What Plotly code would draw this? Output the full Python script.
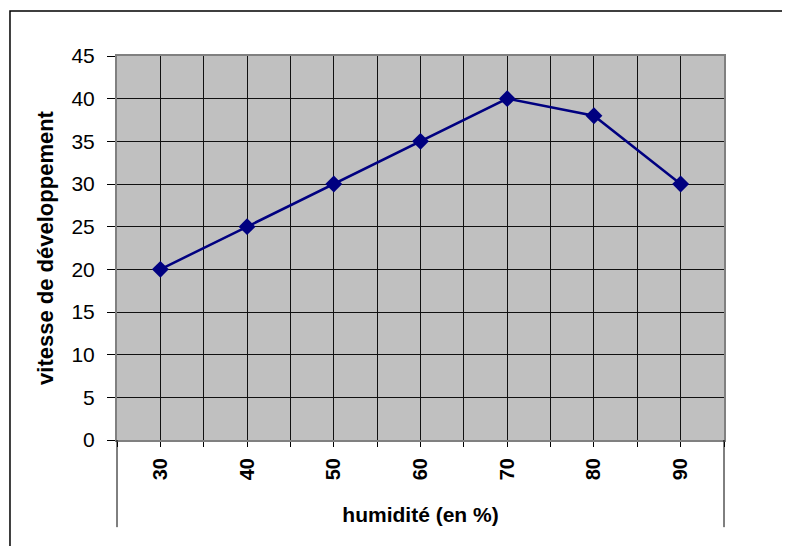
import plotly.graph_objects as go

# Données
humidite = [30, 40, 50, 60, 70, 80, 90]
vitesse = [20, 25, 30, 35, 40, 38, 30]

# Graduations de l'axe x (limites et centres des catégories)
graduations_x = [25, 30, 35, 40, 45, 50, 55, 60, 65, 70, 75, 80, 85, 90, 95]
etiquettes_x = [str(v) if v in humidite else "" for v in graduations_x]

fig = go.Figure()
fig.add_trace(go.Scatter(
    x=humidite, y=vitesse, mode="lines+markers",
    line=dict(color="#000080", width=2.5),
    marker=dict(symbol="diamond", size=13, color="#000080"),
    showlegend=False,
))

# La page ajoute une marge de 8 px autour de la figure
fig.update_layout(
    width=782, height=538,
    margin=dict(l=109, r=66, t=48, b=106),
    paper_bgcolor="white",
    plot_bgcolor="#C0C0C0",
    font=dict(family="Liberation Sans, Arial, sans-serif", color="black"),
)

fig.update_xaxes(
    range=[25, 95], tickmode="array", tickvals=graduations_x, ticktext=etiquettes_x,
    tickangle=-90, tickfont=dict(size=20, family="Liberation Sans, Arial", weight="bold"),
    ticks="outside", ticklen=5, tickcolor="black", ticklabelstandoff=3,
    showgrid=True, gridcolor="#111111", gridwidth=1,
    showline=True, linecolor="#808080", linewidth=2, mirror=True,
    zeroline=False,
    title=dict(text="<b>humidité (en %)</b>", font=dict(size=21), standoff=28),
)
fig.update_yaxes(
    range=[0, 45], dtick=5, tickfont=dict(size=21),
    ticks="outside", ticklen=8, tickcolor="black", ticklabelstandoff=8,
    showgrid=True, gridcolor="#111111", gridwidth=1,
    showline=True, linecolor="#808080", linewidth=2, mirror=True,
    zeroline=False,
    title=dict(text="<b>vitesse de développement</b>", font=dict(size=22), standoff=12),
)

# Lignes verticales sous l'axe des catégories
for xp in [0, 1]:
    fig.add_shape(type="line", xref="paper", yref="paper",
                  x0=xp, x1=xp, y0=0, y1=-0.227,
                  line=dict(color="black", width=1))

# Cadre extérieur du graphique
fig.add_shape(type="rect", xref="paper", yref="paper",
              x0=-0.1763, x1=1.2, y0=-0.35, y1=1.117,
              line=dict(color="black", width=1.5))

fig.write_html("out.html")
